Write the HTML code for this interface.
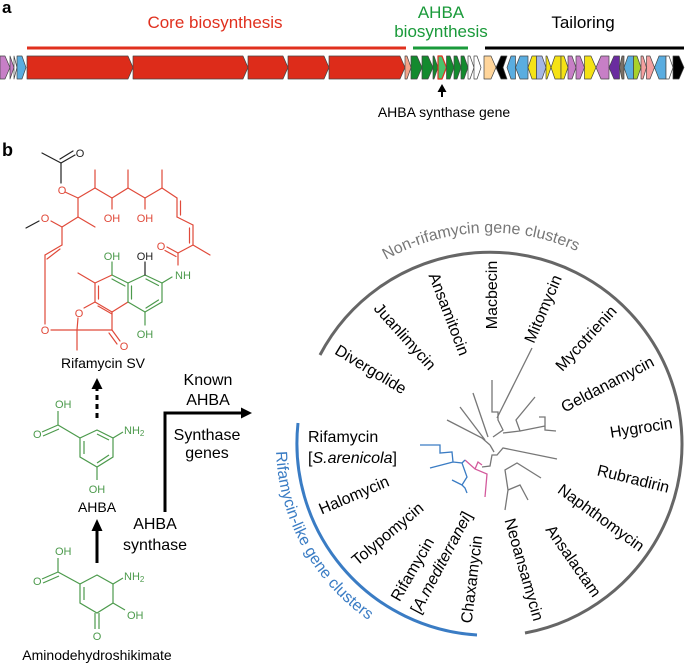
<!DOCTYPE html>
<html><head><meta charset="utf-8"><style>
html,body{margin:0;padding:0;background:#fff;}
svg{display:block;font-family:"Liberation Sans",Arial,sans-serif;}
</style></head><body>
<svg width="685" height="665" viewBox="0 0 685 665" xmlns="http://www.w3.org/2000/svg">
<text x="2" y="13" font-size="17" font-weight="bold">a</text>
<text x="215" y="28" font-size="17" fill="#e0301e" text-anchor="middle">Core biosynthesis</text>
<text x="441" y="18" font-size="17" fill="#1a9a3a" text-anchor="middle">AHBA</text>
<text x="441" y="37" font-size="17" fill="#1a9a3a" text-anchor="middle">biosynthesis</text>
<text x="583" y="28" font-size="17" fill="#000" text-anchor="middle">Tailoring</text>
<line x1="27" y1="48" x2="406" y2="48" stroke="#e0301e" stroke-width="3"/>
<line x1="413" y1="48" x2="468" y2="48" stroke="#1a9a3a" stroke-width="3"/>
<line x1="485" y1="48" x2="684" y2="48" stroke="#000" stroke-width="3"/>
<g stroke="#444" stroke-width="0.7" stroke-linejoin="round">
<polygon points="0,56 5,56 10,67.5 5,79 0,79" fill="#c77fc6"/>
<polygon points="10,56 10,56 14,67.5 10,79" fill="#c77fc6"/>
<polygon points="14,56 14,56 17,67.5 14,79" fill="#fff"/>
<polygon points="17,56 22,56 26,67.5 22,79 17,79" fill="#5aade0"/>
<polygon points="27,56 128,56 133,67.5 128,79 27,79" fill="#dd2c1a"/>
<polygon points="133,56 243,56 248,67.5 243,79 133,79" fill="#dd2c1a"/>
<polygon points="248,56 283,56 288,67.5 283,79 248,79" fill="#dd2c1a"/>
<polygon points="288,56 324,56 329,67.5 324,79 288,79" fill="#dd2c1a"/>
<polygon points="329,56 400,56 405,67.5 400,79 329,79" fill="#dd2c1a"/>
<polygon points="405,56 407,56 411,67.5 407,79 405,79" fill="#f3a48a"/>
<polygon points="411,56 417,56 422,67.5 417,79 411,79" fill="#138a2e"/>
<polygon points="422,56 428,56 433,67.5 428,79 422,79" fill="#138a2e"/>
<polygon points="433,56 434,56 438,67.5 434,79 433,79" fill="#138a2e"/>
<polygon points="438,56 442,56 446.5,67.5 442,79 438,79" fill="#4bc36b" stroke="#e0301e" stroke-width="1.2"/>
<polygon points="446.5,56 450,56 454,67.5 450,79 446.5,79" fill="#138a2e"/>
<polygon points="454,56 457,56 461,67.5 457,79 454,79" fill="#138a2e"/>
<polygon points="461,56 464,56 468,67.5 464,79 461,79" fill="#138a2e"/>
<polygon points="468,56 470,56 474,67.5 470,79 468,79" fill="#fff"/>
<polygon points="474,56 477,56 481,67.5 477,79 474,79" fill="#fff"/>
<polygon points="484,56 491,56 496,67.5 491,79 484,79" fill="#ffd59a"/>
<polygon points="496,67.5 501,56 507,56 503,67.5 507,79 501,79" fill="#000"/>
<polygon points="507,67.5 511,56 515.5,56 515.5,79 511,79" fill="#5aade0"/>
<polygon points="515.5,67.5 520,56 528,56 528,79 520,79" fill="#5aade0"/>
<polygon points="528,67.5 532,56 536.5,56 536.5,79 532,79" fill="#f5e215"/>
<polygon points="536.5,56 542,56 546,67.5 542,79 536.5,79" fill="#a4b6e6"/>
<polygon points="546,56 547,56 551,67.5 547,79 546,79" fill="#f5e215"/>
<polygon points="551,67.5 555,56 561,56 561,79 555,79" fill="#f5e215"/>
<polygon points="561,56 564,56 568,67.5 564,79 561,79" fill="#f5e215"/>
<polygon points="568,56 572,56 576,67.5 572,79 568,79" fill="#c77fc6"/>
<polygon points="576,56 580,56 584.5,67.5 580,79 576,79" fill="#c77fc6"/>
<polygon points="584.5,56 591,56 596,67.5 591,79 584.5,79" fill="#f5e215"/>
<polygon points="596,67.5 601,56 609,56 609,79 601,79" fill="#c77fc6"/>
<polygon points="609,67.5 614,56 619.5,56 619.5,79 614,79" fill="#6a2c9f"/>
<polygon points="619.5,67.5 622,56 624,56 624,79 622,79" fill="#7a6f66"/>
<polygon points="624,67.5 628,56 633.5,56 633.5,79 628,79" fill="#5aade0"/>
<polygon points="633.5,56 637,56 641,67.5 637,79 633.5,79" fill="#a9d12b"/>
<polygon points="641,56 643,56 646.5,67.5 643,79 641,79" fill="#f4a0a0"/>
<polygon points="646.5,56 650,56 654.5,67.5 650,79 646.5,79" fill="#f4a0a0"/>
<polygon points="654.5,67.5 659,56 666,56 666,79 659,79" fill="#5aade0"/>
<polygon points="666,56 669,56 673,67.5 669,79 666,79" fill="#fff"/>
<polygon points="673,56 679,56 684,67.5 679,79 673,79" fill="#000"/>
</g>
<line x1="442" y1="97" x2="442" y2="90" stroke="#000" stroke-width="2"/>
<polygon points="442,84 437.5,92 446.5,92" fill="#000"/>
<text x="444" y="117" font-size="14" text-anchor="middle">AHBA synthase gene</text>

<text x="2" y="156" font-size="18" font-weight="bold">b</text>

<g fill="none" stroke-width="1.2" stroke-linecap="round">
<g stroke="#222">
<line x1="42" y1="153" x2="61" y2="163"/>
<line x1="61" y1="163" x2="75" y2="155"/>
<line x1="60" y1="159" x2="73" y2="151"/>
<line x1="61" y1="163" x2="61" y2="183"/>
<line x1="39" y1="221" x2="26" y2="228"/>
</g>
<g stroke="#e04a3a">
<line x1="65" y1="192" x2="78" y2="198"/>
<line x1="78" y1="198" x2="95" y2="188"/><line x1="95" y1="188" x2="95" y2="170"/>
<line x1="95" y1="188" x2="112" y2="198"/><line x1="112" y1="198" x2="112" y2="209"/>
<line x1="112" y1="198" x2="128" y2="188"/><line x1="128" y1="188" x2="128" y2="170"/>
<line x1="128" y1="188" x2="145" y2="198"/><line x1="145" y1="198" x2="145" y2="209"/>
<line x1="145" y1="198" x2="162" y2="188"/><line x1="162" y1="188" x2="162" y2="170"/>
<line x1="162" y1="188" x2="177" y2="198"/>
<line x1="177" y1="198" x2="177" y2="217"/><line x1="180.5" y1="201" x2="180.5" y2="215"/>
<line x1="177" y1="217" x2="193" y2="225"/>
<line x1="193" y1="225" x2="193" y2="245"/><line x1="189.5" y1="228" x2="189.5" y2="243"/>
<line x1="193" y1="245" x2="210" y2="255"/>
<line x1="193" y1="245" x2="178" y2="253"/>
<line x1="178" y1="253" x2="167" y2="247"/><line x1="176" y1="256.5" x2="165" y2="250.5"/>
<line x1="178" y1="253" x2="178" y2="265"/>
<line x1="78" y1="198" x2="78" y2="217"/><line x1="78" y1="217" x2="95" y2="227"/>
<line x1="78" y1="217" x2="62" y2="227"/>
<line x1="62" y1="227" x2="51" y2="221"/>
<line x1="62" y1="227" x2="62" y2="245"/>
<line x1="62" y1="245" x2="45" y2="255"/><line x1="60" y1="249" x2="47" y2="259"/>
<line x1="45" y1="255" x2="45" y2="324"/>
<line x1="51" y1="330" x2="77" y2="330"/>
<line x1="77" y1="330" x2="77" y2="350"/>
<line x1="77" y1="330" x2="78" y2="318"/>
<line x1="77" y1="330" x2="112" y2="330"/>
<line x1="112" y1="330" x2="112" y2="312"/>
<line x1="112" y1="330" x2="120" y2="341"/><line x1="109" y1="333" x2="117" y2="344"/>
<line x1="84" y1="308" x2="95" y2="302"/>
<line x1="95" y1="302" x2="95" y2="283"/><line x1="98.5" y1="299" x2="98.5" y2="286"/>
<line x1="95" y1="283" x2="112" y2="275"/>
<line x1="95" y1="283" x2="78" y2="273"/>
<line x1="95" y1="302" x2="112" y2="312"/><line x1="98" y1="306" x2="112" y2="314"/>
<line x1="112" y1="312" x2="128" y2="302"/>
</g>
<g stroke="#4c9a4c">
<line x1="112" y1="275" x2="128" y2="283"/><line x1="112" y1="279" x2="125" y2="286"/>
<line x1="112" y1="275" x2="112" y2="262"/>
<line x1="128" y1="283" x2="128" y2="302"/><line x1="131.5" y1="286" x2="131.5" y2="299"/>
<line x1="128" y1="283" x2="145" y2="275"/>
<line x1="145" y1="275" x2="162" y2="283"/><line x1="146" y1="279" x2="158.5" y2="285.5"/>
<line x1="162" y1="283" x2="162" y2="302"/>
<line x1="162" y1="302" x2="145" y2="312"/><line x1="158.5" y1="300" x2="146" y2="308"/>
<line x1="145" y1="312" x2="128" y2="302"/>
<line x1="145" y1="312" x2="145" y2="325"/>
<line x1="162" y1="283" x2="172" y2="277"/>
</g>
<line x1="145" y1="275" x2="145" y2="262" stroke="#222"/>
</g>
<g font-size="11" text-anchor="middle">
<text x="80" y="157" fill="#222">O</text>
<text x="62" y="194" fill="#e04a3a">O</text>
<text x="112" y="222" fill="#e04a3a">OH</text>
<text x="145" y="222" fill="#e04a3a">OH</text>
<text x="161" y="250" fill="#e04a3a">O</text>
<text x="183" y="279" fill="#4c9a4c">NH</text>
<text x="45" y="222" fill="#e04a3a">O</text>
<text x="112" y="260" fill="#4c9a4c">OH</text>
<text x="145" y="260" fill="#222">OH</text>
<text x="145" y="338" fill="#4c9a4c">OH</text>
<text x="79" y="317" fill="#e04a3a">O</text>
<text x="45" y="334" fill="#e04a3a">O</text>
<text x="124" y="350" fill="#e04a3a">O</text>
</g>
<text x="103" y="368" font-size="14" text-anchor="middle">Rifamycin SV</text>

<line x1="97" y1="418" x2="97" y2="388" stroke="#000" stroke-width="3" stroke-dasharray="5,4"/>
<polygon points="97,378 91.5,389 102.5,389" fill="#000"/>

<g fill="none" stroke="#4c9a4c" stroke-width="1.2">
<polygon points="97,430 113,438 113,457 97,467 80,457 80,438"/>
<line x1="84" y1="441" x2="84" y2="454"/>
<line x1="109" y1="440" x2="97" y2="434"/>
<line x1="109" y1="455" x2="97" y2="463"/>
<line x1="80" y1="438" x2="58" y2="425"/>
<line x1="58" y1="425" x2="58" y2="411"/>
<line x1="58" y1="425" x2="42" y2="432"/><line x1="59" y1="429" x2="43" y2="436"/>
<line x1="113" y1="438" x2="123" y2="432"/>
<line x1="97" y1="467" x2="97" y2="480"/>
</g>
<g font-size="11" fill="#4c9a4c">
<text x="55" y="408">OH</text>
<text x="33" y="438">O</text>
<text x="124" y="434">NH<tspan font-size="8" dy="2">2</tspan></text>
<text x="97" y="493" text-anchor="middle">OH</text>
</g>
<text x="97" y="512" font-size="14" text-anchor="middle">AHBA</text>

<line x1="97" y1="563" x2="97" y2="530" stroke="#000" stroke-width="3"/>
<polygon points="97,519 91.5,531 102.5,531" fill="#000"/>

<g fill="none" stroke="#4c9a4c" stroke-width="1.2">
<polygon points="97,575 113,584 113,603 97,613 80,603 80,584"/>
<line x1="84" y1="587" x2="84" y2="600"/>
<line x1="80" y1="584" x2="58" y2="572"/>
<line x1="58" y1="572" x2="58" y2="558"/>
<line x1="58" y1="572" x2="42" y2="579"/><line x1="59" y1="576" x2="43" y2="583"/>
<line x1="113" y1="584" x2="123" y2="578"/>
<line x1="113" y1="603" x2="125" y2="610"/>
<line x1="95" y1="613" x2="95" y2="629"/><line x1="99" y1="613" x2="99" y2="629"/>
</g>
<g font-size="11" fill="#4c9a4c">
<text x="55" y="555">OH</text>
<text x="33" y="585">O</text>
<text x="124" y="580">NH<tspan font-size="8" dy="2">2</tspan></text>
<text x="127" y="619">OH</text>
<text x="97" y="640" text-anchor="middle">O</text>
</g>
<text x="97" y="660" font-size="14" text-anchor="middle">Aminodehydroshikimate</text>

<polyline points="165,512 165,413 243,413" fill="none" stroke="#000" stroke-width="3"/>
<polygon points="252,413 241,407.5 241,418.5" fill="#000"/>
<g font-size="16" text-anchor="middle">
<text x="208" y="385">Known</text>
<text x="208" y="405">AHBA</text>
<text x="207" y="440">Synthase</text>
<text x="207" y="458">genes</text>
<text x="155" y="529">AHBA</text>
<text x="155" y="550">synthase</text>
</g>

<defs>
<path id="topArc" d="M 297.1,356.6 A 212 212 0 0 1 682.9,356.6"/>
<path id="leftArc" d="M 276.1,451.5 A 214 214 0 0 0 452.8,654.7"/>
</defs>
<path d="M 320,355 A 192 192 0 1 1 525,633" fill="none" stroke="#666" stroke-width="3"/>
<path d="M 298,423 A 192 192 0 0 0 477,635" fill="none" stroke="#3a7cc4" stroke-width="3"/>
<text font-size="16" fill="#777"><textPath href="#topArc" startOffset="48%" text-anchor="middle">Non-rifamycin gene clusters</textPath></text>
<text font-size="16" fill="#3a7cc4"><textPath href="#leftArc" startOffset="0">Rifamycin-like gene clusters</textPath></text>

<g fill="none" stroke="#777" stroke-width="1.3">
<path d="M532,348 L497,418"/>
<path d="M492,380 L492,412 L498,412 L498,420 L503,430 L493,437"/>
<path d="M473,393 L488,437"/>
<path d="M460,407 L485,440"/>
<path d="M447,420 L482,438 L490,445"/>
<path d="M535,397 L516,420 L520,431 L503,433"/>
<path d="M539,417 L545,417 L545,430 L556,431 M545,426 L520,431"/>
<path d="M557,459 L503,448 L497,455 L492,455 L490,466 L482,467"/>
<path d="M541,478 L517,463 L505,470 L508,490 L505,510 M508,490 L520,485 L528,500"/>
<path d="M490,445 L494,452"/>
</g>
<g fill="none" stroke="#d35a9c" stroke-width="1.3">
<path d="M465,460 L475,469 L487,474 L485,497 M475,469 L478,462 L482,465"/>
</g>
<g fill="none" stroke="#3a7cc4" stroke-width="1.3">
<path d="M420,445 L440,445 L440,453 L452,452 L453,462 L430,468 M453,462 L462,463 L467,477 L462,485 L452,480 M462,485 L465,488 L467,493 M462,463 L465,460"/>
</g>

<g font-size="16" text-anchor="middle" fill="#000">
<text transform="translate(368,374) rotate(31)">Divergolide</text>
<text transform="translate(401,340) rotate(48)">Juanlimycin</text>
<text transform="translate(444,316) rotate(69)">Ansamitocin</text>
<text transform="translate(497,295) rotate(-90)">Macbecin</text>
<text transform="translate(548,311) rotate(-67)">Mitomycin</text>
<text transform="translate(590,342) rotate(-47.5)">Mycotrienin</text>
<text transform="translate(610,389) rotate(-27.6)">Geldanamycin</text>
<text transform="translate(642,433) rotate(-9)">Hygrocin</text>
<text transform="translate(632,484) rotate(14)">Rubradirin</text>
<text transform="translate(598,522) rotate(36)">Naphthomycin</text>
<text transform="translate(569,564) rotate(55)">Ansalactam</text>
<text transform="translate(519,571) rotate(74)">Neoansamycin</text>
<text transform="translate(477,580) rotate(-83)">Chaxamycin</text>
<text transform="translate(417,572) rotate(-60)">Rifamycin</text>
<text transform="translate(446,565) rotate(-62)">[<tspan font-style="italic">A.mediterranei</tspan>]</text>
<text transform="translate(391,538) rotate(-40)">Tolypomycin</text>
<text transform="translate(356,500) rotate(-23)">Halomycin</text>
</g>
<g font-size="16">
<text x="308" y="442">Rifamycin</text>
<text x="308" y="463">[<tspan font-style="italic">S.arenicola</tspan>]</text>
</g>
</svg>
</body></html>
